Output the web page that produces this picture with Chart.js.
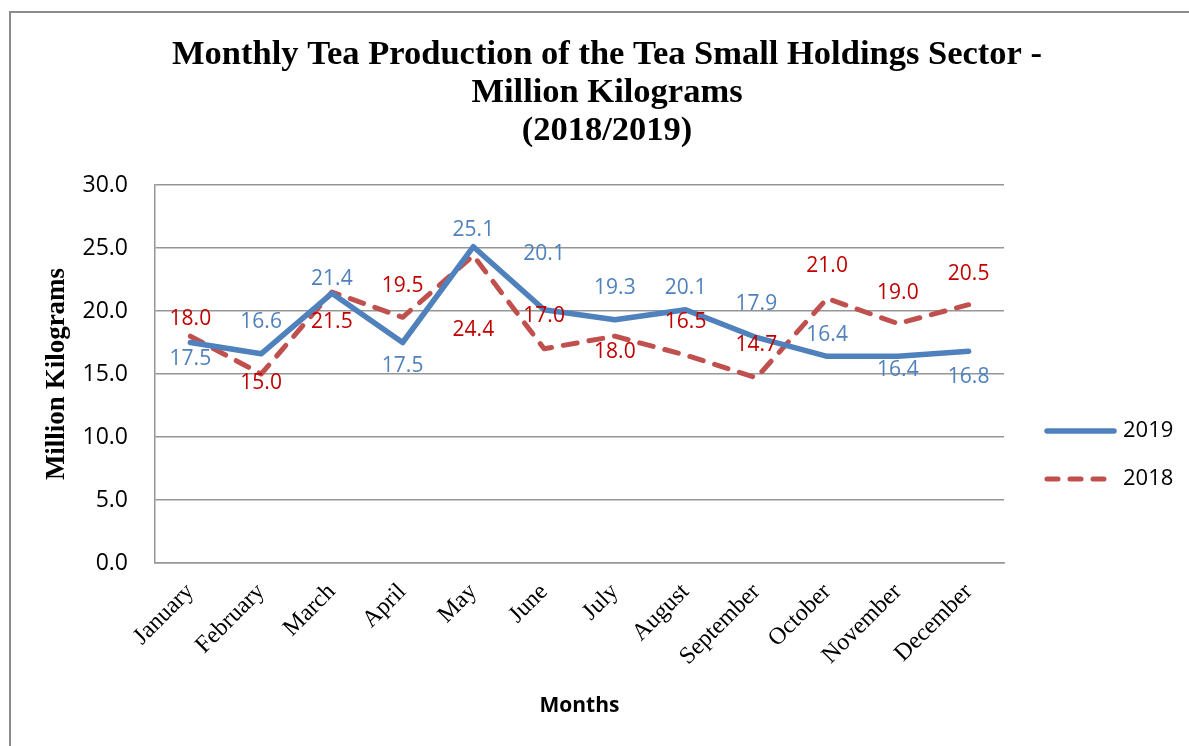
<!DOCTYPE html>
<html>
<head>
<meta charset="utf-8">
<title>Monthly Tea Production</title>
<script src="https://cdn.jsdelivr.net/npm/chart.js@4.4.1/dist/chart.umd.min.js"></script>
<style>
  html, body { margin: 0; padding: 0; background: #fff; overflow: hidden; }
  #frame { position: absolute; left: 9px; top: 11px; width: 1400px; height: 1000px;
           border-left: 2px solid #8c8c8c; border-top: 2px solid #8c8c8c; }
  #wrap { position: absolute; left: 0; top: 0; width: 1189px; height: 746px; }
</style>
</head>
<body>
<div id="frame"></div>
<div id="wrap"><canvas id="tea-chart" width="1189" height="746"></canvas></div>
<script>
// chart data
const months = ['January', 'February', 'March', 'April', 'May', 'June',
  'July', 'August', 'September', 'October', 'November', 'December'];
const prod2019 = [17.5, 16.6, 21.4, 17.5, 25.1, 20.1, 19.3, 20.1, 17.9, 16.4, 16.4, 16.8];
const prod2018 = [18.0, 15.0, 21.5, 19.5, 24.4, 17.0, 18.0, 16.5, 14.7, 21.0, 19.0, 20.5];
const yTicks = [0, 5, 10, 15, 20, 25, 30];
const titleLines = ['Monthly Tea Production of the Tea Small Holdings Sector -',
  'Million Kilograms', '(2018/2019)'];

// where each value label sits relative to its point (px, up is negative)
const labelShift2019 = [17, -32, -14, 24, -17, -56, -32, -22, -33, -21, 14, 26];
const labelShift2018 = [-17, 9, 30, -31, 74, -33, 16, -33, -33, -32, -31, -31];

const SANS = '"Open Sans", "Noto Sans", sans-serif';
const SERIF = '"Liberation Serif", "DejaVu Serif", serif';

// title, value labels and legend drawn on top of the chart
const extrasPlugin = {
  id: 'extras',
  afterDatasetsDraw(chart) {
    const ctx = chart.ctx;
    ctx.save();
    ctx.textAlign = 'center';
    ctx.textBaseline = 'middle';
    ctx.font = '21px ' + SANS;
    chart.data.datasets.forEach(function(ds, di) {
      const meta = chart.getDatasetMeta(di);
      const shifts = ds.labelShift;
      ctx.fillStyle = ds.labelColor;
      meta.data.forEach(function(pt, i) {
        ctx.fillText(ds.data[i].toFixed(1), pt.x, pt.y + shifts[i]);
      });
    });
    ctx.restore();
  },
  afterDraw(chart) {
    const ctx = chart.ctx;
    ctx.save();
    // title
    ctx.fillStyle = '#000';
    ctx.textAlign = 'center';
    ctx.textBaseline = 'middle';
    ctx.font = 'bold 34.5px ' + SERIF;
    titleLines.forEach(function(line, i) {
      ctx.fillText(line, 607, 55 + i * 38);
    });
    // legend
    ctx.font = '22px ' + SANS;
    ctx.textAlign = 'left';
    chart.data.datasets.forEach(function(ds, di) {
      const y = 431 + di * 48;
      ctx.beginPath();
      ctx.strokeStyle = ds.borderColor;
      ctx.lineWidth = ds.borderWidth;
      ctx.lineCap = 'round';
      ctx.setLineDash(ds.borderDash ? [11, 12] : []);
      ctx.moveTo(1047, y);
      ctx.lineTo(ds.borderDash ? 1110 : 1114, y);
      ctx.stroke();
      ctx.setLineDash([]);
      ctx.fillStyle = '#000';
      ctx.fillText(ds.label, 1123, y);
    });
    ctx.restore();
  }
};

const ctx = document.getElementById('tea-chart').getContext('2d');
const teaChart = new Chart(ctx, {
  type: 'line',
  data: {
    labels: months,
    datasets: [{
      label: '2019',
      data: prod2019,
      borderColor: '#4F81BD',
      borderWidth: 5.5,
      borderCapStyle: 'round',
      borderJoinStyle: 'round',
      pointRadius: 0,
      tension: 0,
      labelColor: '#4F81BD',
      labelShift: labelShift2019,
    }, {
      label: '2018',
      data: prod2018,
      borderColor: '#C0504D',
      borderWidth: 5,
      borderDash: [14, 12],
      borderCapStyle: 'round',
      borderJoinStyle: 'round',
      pointRadius: 0,
      tension: 0,
      labelColor: '#C00000',
      labelShift: labelShift2018,
    }]
  },
  options: {
    responsive: false,
    animation: false,
    devicePixelRatio: 1,
    layout: {
      padding: { top: 185, right: 185, left: 0, bottom: 0 }
    },
    scales: {
      x: {
        offset: true,
        grid: { display: false, drawTicks: false },
        border: { display: true, color: '#969696', width: 1.5 },
        ticks: {
          color: '#000',
          font: { family: SERIF, size: 24 },
          minRotation: 45,
          maxRotation: 45,
          autoSkip: false,
          padding: 15,
        },
        title: {
          display: true,
          text: 'Months',
          color: '#000',
          font: { family: SANS, size: 21, weight: 'bold' },
          padding: { top: 0, bottom: 27 },
        },
        afterFit: function(scale) { scale.height = 183; },
      },
      y: {
        min: 0,
        max: 30,
        afterBuildTicks: function(scale) {
          scale.ticks = yTicks.map(function(v) { return { value: v }; });
        },
        grid: { color: '#969696', lineWidth: 1.5, drawTicks: false },
        border: { display: true, color: '#969696', width: 1.5 },
        ticks: {
          color: '#000',
          font: { family: SANS, size: 23 },
          padding: 27,
          callback: function(v) { return Number(v).toFixed(1); },
        },
        title: {
          display: true,
          text: 'Million Kilograms',
          color: '#000',
          font: { family: SERIF, size: 27, weight: 'bold' },
          padding: { top: 41, bottom: 0 },
        },
        afterFit: function(scale) { scale.width = 155; },
      }
    },
    plugins: {
      legend: { display: false },
      title: { display: false },
      tooltip: { enabled: false },
    }
  },
  plugins: [extrasPlugin]
});
</script>
</body>
</html>
